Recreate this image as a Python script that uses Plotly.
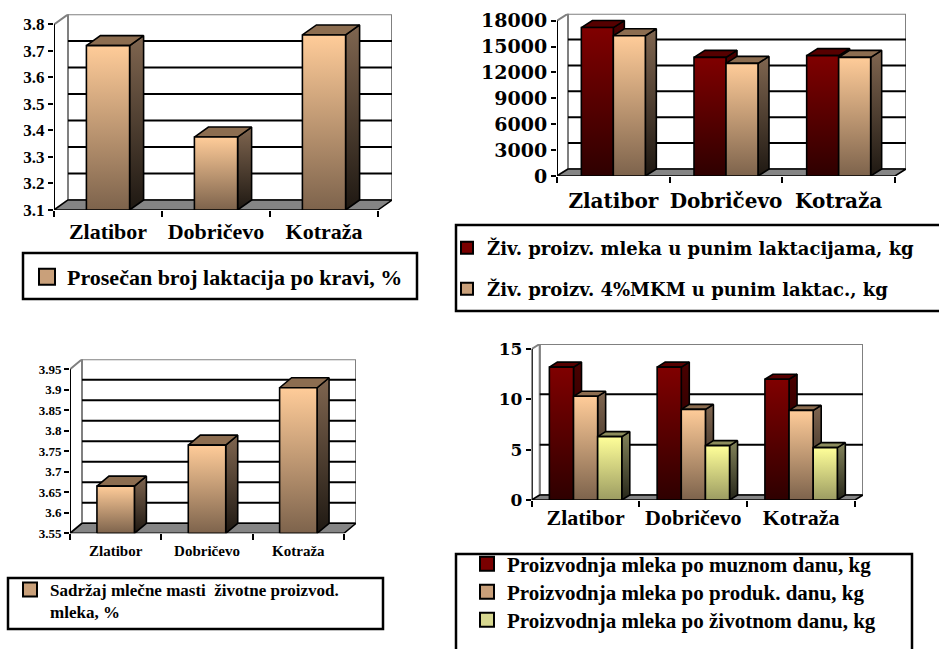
import plotly.graph_objects as go

W, H = 939, 649

# ---------------- data ----------------
categories = ["Zlatibor", "Dobričevo", "Kotraža"]

# chart 1 (top left)
lactations = [3.72, 3.375, 3.76]
lactations_name = "Prosečan broj laktacija po kravi, %"
lact_ticks = [3.1, 3.2, 3.3, 3.4, 3.5, 3.6, 3.7, 3.8]
lact_ticktext = ["3.1", "3.2", "3.3", "3.4", "3.5", "3.6", "3.7", "3.8"]

# chart 2 (top right)
milk_full_lact = [17200, 13750, 13950]
fcm_full_lact = [16250, 13050, 13750]
prod_names = ["Živ. proizv. mleka u punim laktacijama, kg",
              "Živ. proizv. 4%MKM u punim laktac., kg"]
prod_ticks = [0, 3000, 6000, 9000, 12000, 15000, 18000]
prod_ticktext = ["0", "3000", "6000", "9000", "12000", "15000", "18000"]

# chart 3 (bottom left)
milk_fat = [3.665, 3.765, 3.905]
fat_name = "Sadržaj mlečne masti  životne proizvod.<br>mleka, %"
fat_ticks = [3.55, 3.6, 3.65, 3.7, 3.75, 3.8, 3.85, 3.9, 3.95]
fat_ticktext = ["3.55", "3.6", "3.65", "3.7", "3.75", "3.8", "3.85", "3.9", "3.95"]

# chart 4 (bottom right)
per_milking_day = [13.2, 13.2, 12.0]
per_productive_day = [10.3, 9.0, 8.9]
per_life_day = [6.3, 5.4, 5.2]
daily_names = ["Proizvodnja mleka po muznom danu, kg",
               "Proizvodnja mleka po produk. danu, kg",
               "Proizvodnja mleka po životnom danu, kg"]
daily_ticks = [0, 5, 10, 15]
daily_ticktext = ["0", "5", "10", "15"]

# ---------------- styles ----------------
PEACH = dict(front=("#7d634c", "#ffcc99"), side=("#1e1812", "#806650"),
             top="#8c6d50", legend="#c9a07a")
RED = dict(front=("#2e0000", "#800000"), side=("#140000", "#4a0000"),
           top="#560000", legend="#7a0000")
YELLOW = dict(front=("#9c9c62", "#ffff99"), side=("#26261a", "#84845a"),
              top="#8c8c5c", legend="#d8d890")

SERIF = "Liberation Serif"
WIDE = "DejaVu Serif"

# legend placement: (legend id, left px, centre px, font size, family, marker size)
panels = [
    dict(n="", series=[lactations], names=[lactations_name], colors=[PEACH],
         ticks=lact_ticks, ticktext=lact_ticktext,
         x0=54, x1=378, yb=210, dx=14, dy=10, ppu=265.2, barw=0.40,
         tickfont=dict(family=SERIF, size=17), catfont=dict(family=SERIF, size=22),
         standoff=6,
         legends=[("legend", 27, 277, 22, SERIF, 16)]),
    dict(n="2", series=[milk_full_lact, fcm_full_lact], names=prod_names,
         colors=[RED, PEACH], ticks=prod_ticks, ticktext=prod_ticktext,
         x0=557, x1=895, yb=176, dx=11, dy=7, ppu=155.33 / 18000, barw=0.284,
         tickfont=dict(family=WIDE, size=19), catfont=dict(family=WIDE, size=20),
         standoff=11,
         legends=[("legend2", 447, 248, 18, WIDE, 12),
                  ("legend3", 447, 289, 18, WIDE, 12)]),
    dict(n="3", series=[milk_fat], names=[fat_name], colors=[PEACH],
         ticks=fat_ticks, ticktext=fat_ticktext,
         x0=70, x1=344, yb=533.3, dx=12, dy=10, ppu=410.0, barw=0.41,
         tickfont=dict(family=SERIF, size=13), catfont=dict(family=SERIF, size=15),
         standoff=7,
         legends=[("legend4", 10, None, 17, SERIF, 14)]),
    dict(n="4", series=[per_milking_day, per_productive_day, per_life_day],
         names=daily_names, colors=[RED, PEACH, YELLOW],
         ticks=daily_ticks, ticktext=daily_ticktext,
         x0=531.7, x1=855, yb=500, dx=8, dy=5, ppu=151 / 15, barw=0.224,
         tickfont=dict(family=WIDE, size=17), catfont=dict(family=SERIF, size=22),
         standoff=2,
         legends=[("legend5", 467, 564, 21, SERIF, 14),
                  ("legend6", 467, 592, 21, SERIF, 14),
                  ("legend7", 467, 620, 21, SERIF, 14)]),
]

fig = go.Figure()
shapes = []
layout = {}


def path(pts):
    return "M " + " L ".join(f"{x},{y}" for x, y in pts) + " Z"


for p in panels:
    n = p["n"]
    ticks = p["ticks"]
    ymin, ymaxt = ticks[0], ticks[-1]
    catw = (p["x1"] - p["x0"]) / 3.0
    ddx = p["dx"] / catw
    ddy = p["dy"] / p["ppu"]
    ytop = ymaxt + ddy
    ytop_px = p["yb"] - (ytop - ymin) * p["ppu"]
    xa, ya = "x" + n, "y" + n
    layout["xaxis" + n] = dict(
        domain=[p["x0"] / W, (p["x1"] + p["dx"]) / W], range=[-0.5, 2.5 + ddx],
        anchor=ya, tickmode="array", tickvals=[0, 1, 2], ticktext=categories,
        ticks="", showgrid=False, zeroline=False, showline=False,
        tickfont=dict(color="black", weight="bold", **p["catfont"]),
        ticklabelstandoff=p["standoff"],
        minor=dict(tickmode="array", tickvals=[-0.5, 0.5, 1.5, 2.5], ticks="outside",
                   ticklen=6, tickwidth=2, tickcolor="black", showgrid=False),
        fixedrange=True)
    layout["yaxis" + n] = dict(
        domain=[1 - p["yb"] / H, 1 - ytop_px / H], range=[ymin, ytop], anchor=xa,
        tickmode="array", tickvals=ticks, ticktext=p["ticktext"], ticks="outside",
        ticklen=5, tickwidth=2, tickcolor="black", showgrid=False, zeroline=False,
        showline=False, tickfont=dict(color="black", weight="bold", **p["tickfont"]),
        fixedrange=True)

    # back wall
    shapes.append(dict(type="rect", xref=xa, yref=ya, x0=-0.5 + ddx, x1=2.5 + ddx,
                       y0=ymin + ddy, y1=ytop, fillcolor="white",
                       line=dict(color="#808080", width=2), layer="below"))
    # left wall
    shapes.append(dict(type="path", xref=xa, yref=ya, layer="below",
                       path=path([(-0.5, ymin), (-0.5 + ddx, ymin + ddy),
                                  (-0.5 + ddx, ytop), (-0.5, ymaxt)]),
                       line=dict(color="#808080", width=2), fillcolor="white"))
    # grid lines on back wall
    for t in ticks[1:-1]:
        shapes.append(dict(type="line", xref=xa, yref=ya, layer="below",
                           x0=-0.5 + ddx, x1=2.5 + ddx, y0=t + ddy, y1=t + ddy,
                           line=dict(color="black", width=2)))
    # floor
    shapes.append(dict(type="path", xref=xa, yref=ya, layer="below",
                       path=path([(-0.5, ymin), (2.5, ymin), (2.5 + ddx, ymin + ddy),
                                  (-0.5 + ddx, ymin + ddy)]),
                       fillcolor="#858585", line=dict(color="black", width=1.5)))
    # front value axis line
    shapes.append(dict(type="line", xref=xa, yref=ya, layer="above",
                       x0=-0.5, x1=-0.5, y0=ymin, y1=ymaxt,
                       line=dict(color="black", width=2)))

    ns = len(p["series"])
    bw = p["barw"]
    for i in range(3):
        for s in range(ns):
            v = p["series"][s][i]
            col = p["colors"][s]
            xl = i - bw * ns / 2 + s * bw
            xrr = xl + bw
            common = dict(xaxis=xa, yaxis=ya, mode="lines", fill="toself",
                          hoverinfo="skip", showlegend=False,
                          line=dict(color="black", width=1.6))
            # side face
            fig.add_trace(go.Scatter(
                x=[xrr, xrr + ddx, xrr + ddx, xrr, xrr],
                y=[ymin, ymin + ddy, v + ddy, v, ymin],
                fillgradient=dict(type="vertical", start=ymin, stop=v + ddy,
                                  colorscale=[[0, col["side"][0]], [1, col["side"][1]]]),
                **common))
            # top face
            fig.add_trace(go.Scatter(
                x=[xl, xrr, xrr + ddx, xl + ddx, xl],
                y=[v, v, v + ddy, v + ddy, v],
                fillcolor=col["top"], **common))
            # front face
            fig.add_trace(go.Scatter(
                x=[xl, xrr, xrr, xl, xl], y=[ymin, ymin, v, v, ymin],
                fillgradient=dict(type="vertical", start=ymin, stop=v,
                                  colorscale=[[0, col["front"][0]], [1, col["front"][1]]]),
                **common))
    # legend entries (one legend per entry for exact placement)
    for s in range(ns):
        lid, lx, ly, fs, fam, msz = p["legends"][s]
        fig.add_trace(go.Scatter(
            x=[None], y=[None], xaxis=xa, yaxis=ya, mode="markers",
            name=p["names"][s], legend=lid,
            marker=dict(symbol="square", size=msz, color=p["colors"][s]["legend"],
                        line=dict(color="black", width=2))))
        if ly is None:
            layout[lid] = dict(x=lx / W, y=1 - 572 / H, xanchor="left", yanchor="top",
                               valign="top", bgcolor="rgba(0,0,0,0)", borderwidth=0,
                               font=dict(family=fam, size=fs, color="black", weight="bold"))
        else:
            layout[lid] = dict(x=lx / W, y=1 - ly / H, xanchor="left", yanchor="middle",
                               bgcolor="rgba(0,0,0,0)", borderwidth=0,
                               font=dict(family=fam, size=fs, color="black", weight="bold"))

# legend boxes
for (bx0, by0, bx1, by1) in [(23, 253, 417, 299), (456, 225, 945, 311),
                             (8, 578, 383, 629), (456, 554, 912, 660)]:
    shapes.append(dict(type="rect", xref="paper", yref="paper",
                       x0=bx0 / W, x1=bx1 / W, y0=1 - by1 / H, y1=1 - by0 / H,
                       line=dict(color="black", width=2.5), fillcolor="white",
                       layer="below"))

fig.update_layout(width=W, height=H, autosize=False,
                  margin=dict(l=0, r=0, t=0, b=0, pad=0, autoexpand=False),
                  font=dict(family=SERIF, color="black", weight="bold"),
                  paper_bgcolor="white", plot_bgcolor="rgba(0,0,0,0)",
                  shapes=shapes, showlegend=True, **layout)

fig.write_html("out.html", config={"displayModeBar": False},
               post_script="document.body.style.margin='0px';"
                           "document.body.style.overflow='hidden';")
